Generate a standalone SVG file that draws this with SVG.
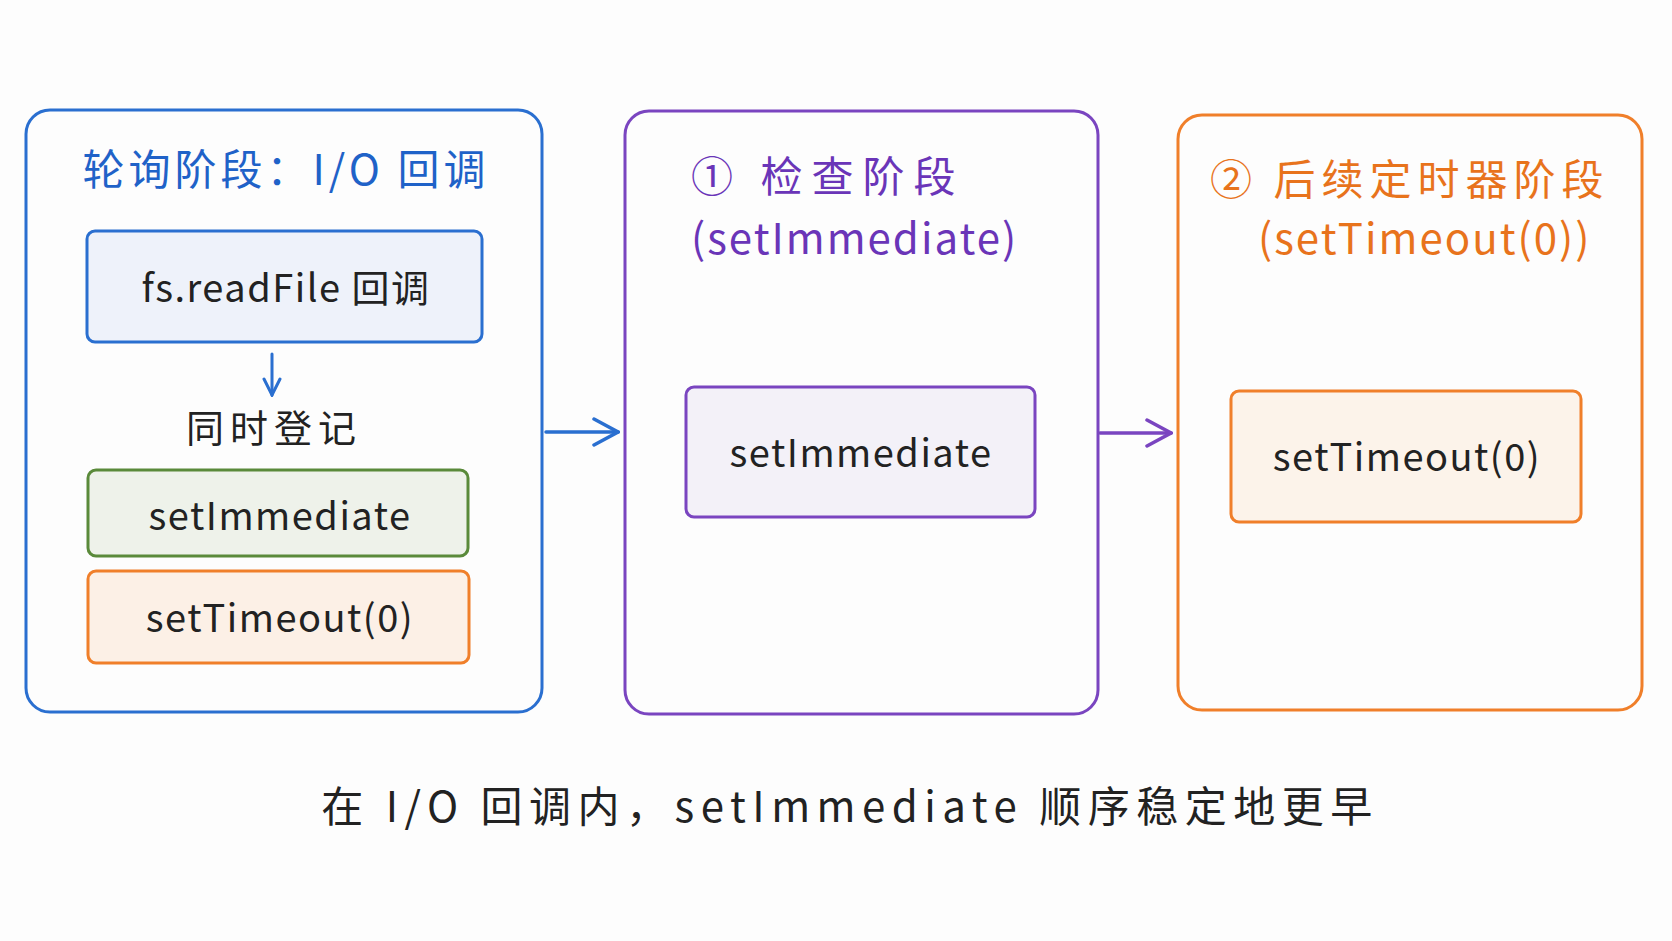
<svg xmlns="http://www.w3.org/2000/svg" width="1672" height="941" viewBox="0 0 1672 941">
<defs>
<marker id="ab" viewBox="0 0 20 20" refX="18" refY="10" markerWidth="20" markerHeight="20" markerUnits="userSpaceOnUse" orient="auto"><path d="M2,2 L18,10 L2,18" fill="none" stroke="#2a6fd0" stroke-width="3" stroke-linecap="round"/></marker>
<marker id="ap" viewBox="0 0 30 30" refX="28" refY="15" markerWidth="30" markerHeight="30" markerUnits="userSpaceOnUse" orient="auto"><path d="M4,2 L28,15 L4,28" fill="none" stroke="#7a45c0" stroke-width="3.5" stroke-linecap="round"/></marker>
<marker id="ab2" viewBox="0 0 30 30" refX="28" refY="15" markerWidth="30" markerHeight="30" markerUnits="userSpaceOnUse" orient="auto"><path d="M4,2 L28,15 L4,28" fill="none" stroke="#2a6fd0" stroke-width="3.5" stroke-linecap="round"/></marker>
</defs>
<style>
text{font-family:"Noto Sans CJK SC","Noto Sans",sans-serif;text-anchor:middle}
.big{fill:none;stroke-width:3}
.t{font-size:42px;letter-spacing:4px}
.s{text-anchor:start}
.m{font-size:38px;fill:#222;letter-spacing:1.5px}
</style>
<rect width="1672" height="941" fill="#fdfdfd"/>
<g id="io">
<rect x="26" y="110" width="516" height="602" rx="24" class="big" stroke="#2a6fd0"/>
<text x="286" y="185" class="t" fill="#1f62c8">轮询阶段：I/O 回调</text>
</g>
<g id="readfile">
<rect x="87" y="231" width="395" height="111" rx="8" fill="#eef2fa" stroke="#2a6fd0" stroke-width="3"/>
<text x="286" y="302" class="m">fs.readFile 回调</text>
</g>
<text x="274" y="442" class="m" fill="#333" style="letter-spacing:6px">同时登记</text>
<g id="si1">
<rect x="88" y="470" width="380" height="86" rx="8" fill="#eef2ea" stroke="#5a8a3a" stroke-width="3"/>
<text x="280" y="530" class="m">setImmediate</text>
</g>
<g id="st1">
<rect x="88" y="571" width="381" height="92" rx="8" fill="#fcf0e6" stroke="#f07f2a" stroke-width="3"/>
<text x="280" y="632" class="m">setTimeout(0)</text>
</g>
<g id="check">
<rect x="625" y="111" width="473" height="603" rx="24" class="big" stroke="#7a45c0"/>
<text x="691" y="192" class="t s" fill="#6a35b8" style="letter-spacing:9px">① 检查阶段</text>
<text x="691" y="254" class="t s" fill="#6a35b8" style="letter-spacing:2px">(setImmediate)</text>
</g>
<g id="si2">
<rect x="686" y="387" width="349" height="130" rx="8" fill="#f3f1f8" stroke="#7a45c0" stroke-width="3"/>
<text x="861" y="467" class="m">setImmediate</text>
</g>
<g id="timers">
<rect x="1178" y="115" width="464" height="595" rx="24" class="big" stroke="#f07f2a"/>
<text x="1210" y="195" class="t s" fill="#e8731c" style="letter-spacing:6px">② 后续定时器阶段</text>
<text x="1258" y="254" class="t s" fill="#e8731c" style="letter-spacing:2px">(setTimeout(0))</text>
</g>
<g id="st2">
<rect x="1231" y="391" width="350" height="131" rx="8" fill="#fcf3ea" stroke="#f07f2a" stroke-width="3"/>
<text x="1407" y="471" class="m">setTimeout(0)</text>
</g>
<g id="connectors" fill="none" stroke-width="3.5" stroke-linecap="round">
<line x1="272" y1="354" x2="272" y2="395" stroke="#2a6fd0" stroke-width="3" marker-end="url(#ab)"/>
<line x1="546" y1="432" x2="618" y2="432" stroke="#2a6fd0" marker-end="url(#ab2)"/>
<line x1="1100" y1="433" x2="1171" y2="433" stroke="#7a45c0" marker-end="url(#ap)"/>
</g>
<text x="850" y="822" font-size="42" fill="#222" style="letter-spacing:6.5px">在 I/O 回调内，setImmediate 顺序稳定地更早</text>
</svg>
